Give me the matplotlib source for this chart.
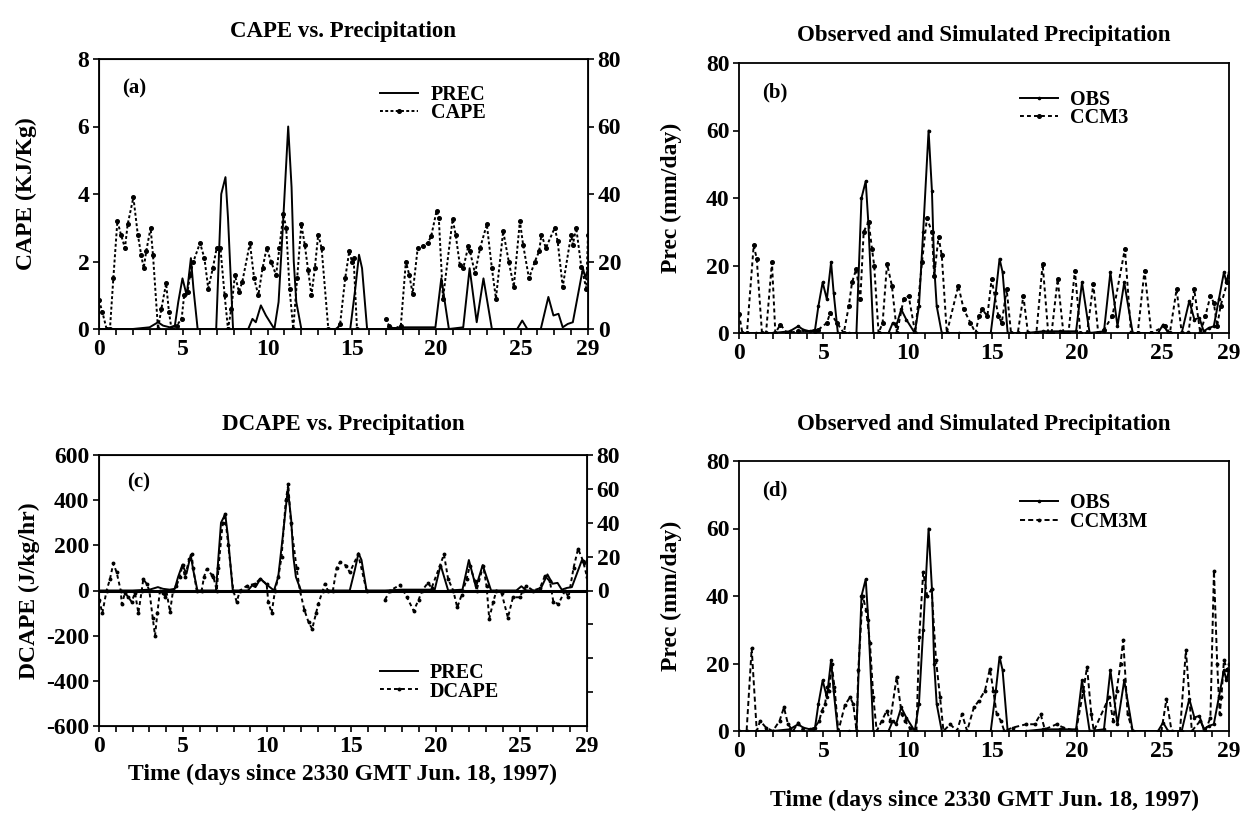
import numpy as np
import matplotlib
matplotlib.use("Agg")
import matplotlib.pyplot as plt

plt.rcParams['font.family'] = ['Liberation Serif', 'DejaVu Serif']
plt.rcParams['font.weight'] = 'bold'
plt.rcParams['axes.labelweight'] = 'bold'
plt.rcParams['axes.titleweight'] = 'bold'
plt.rcParams['axes.unicode_minus'] = False

nan = np.nan
# ---------------- data ----------------
obs_t = [0, 0.5, 1, 2, 3, 3.5, 3.8, 4.2, 4.5, 4.7, 4.95, 5.2, 5.45, 5.6, 5.85, 6.5, 6.95, 7.25, 7.5, 7.65, 7.95,
         8.85, 9.1, 9.3, 9.6, 9.9, 10.4, 10.65, 10.9, 11.22, 11.42, 11.55, 11.7, 12.0, 13, 14.9, 15.2, 15.42, 15.6,
         15.9, 17, 18, 19, 19.95, 20.3, 20.75, 21.6, 21.98, 22.4, 22.8, 23.3, 24.8, 25.1, 25.4, 26.2, 26.65, 26.95,
         27.25, 27.5, 27.8, 28.1, 28.4, 28.7, 28.85, 29]
obs_v = [0, 0, 0, 0, 0.5, 2, 1, 0.5, 1, 8, 15, 10, 21, 12, 0, 0, 0, 40, 45, 33, 0,
         0, 3, 2, 7, 4, 0, 8, 30, 60, 42, 20, 8, 0, 0, 0, 12, 22, 18,
         0, 0, 0.5, 0.5, 0.5, 15, 0, 0.5, 18, 2, 15, 0, 0, 2.5, 0, 0, 9.5, 4,
         4.5, 0.5, 1.5, 2, 10, 18, 15, 18]

cape_t = [0, 0.2, 0.45, 0.65, 0.85, 1.09, 1.3, 1.54, 1.7, 2.04, 2.3, 2.5, 2.65, 2.8, 3.06, 3.2, 3.5, 3.7, 3.98,
          4.15, 4.3, 4.6, 4.9, 5.05, 5.25, 5.4, 5.6, 5.99, 6.25, 6.48, 6.75, 6.98, 7.2, 7.45, 7.65, 7.85, 8.06,
          8.3, 8.5, 8.95, 9.2, 9.45, 9.7, 9.94, 10.2, 10.5, 10.7, 10.93, 11.1, 11.3, 11.52, 11.75, 12.0, 12.2,
          12.4, 12.6, 12.8, 13.0, 13.2, 13.6, 14.1, 14.3, 14.6, 14.84, 15.0, 15.1, 15.3, 16.0, 17.0, 17.2, 17.5,
          17.9, 18.2, 18.4, 18.6, 18.9, 19.2, 19.5, 19.7, 20.02, 20.15, 20.4, 20.97, 21.15, 21.4, 21.6, 21.9,
          22.0, 22.3, 22.6, 23.0, 23.3, 23.54, 23.97, 24.3, 24.6, 24.96, 25.15, 25.5, 25.85, 26.1, 26.24, 26.5,
          27.03, 27.2, 27.5, 28.0, 28.1, 28.3, 28.6, 28.9, 29]
cape_v = [0.85, 0.5, 0, 0, 1.5, 3.2, 2.8, 2.4, 3.1, 3.9, 2.8, 2.2, 1.8, 2.3, 3.0, 2.2, 0, 0.6, 1.35,
          0.5, 0, 0.1, 0.3, 1.0, 1.1, 1.6, 2.0, 2.55, 2.1, 1.2, 1.8, 2.4, 2.4, 1.0, 0, 0.6, 1.6,
          1.1, 1.4, 2.55, 1.5, 1.0, 1.8, 2.4, 2.0, 1.6, 2.4, 3.4, 3.0, 1.2, 0, 1.5, 3.1, 2.5,
          1.75, 1.0, 1.8, 2.8, 2.4, 0, 0, 0.15, 1.5, 2.3, 2.0, 2.1, 0, nan, 0.3, 0.1, 0,
          0.1, 2.0, 1.6, 1.05, 2.4, 2.45, 2.55, 2.75, 3.5, 3.3, 0.9, 3.25, 2.8, 1.9, 1.8, 2.45,
          2.3, 1.65, 2.4, 3.1, 1.8, 0.9, 2.9, 2.0, 1.25, 3.2, 2.5, 1.5, 2.0, 2.3, 2.8, 2.4,
          3.0, 2.6, 1.25, 2.8, 2.5, 3.0, 1.85, 1.2, 2.8]

ccm3_t = [0, 0.2, 0.47, 0.87, 1.05, 1.36, 1.6, 1.95, 2.15, 2.45, 2.85, 3.5, 4.5, 4.7, 5.2, 5.4, 5.8, 6.2, 6.5,
          6.69, 6.94, 7.18, 7.38, 7.67, 7.87, 8.0, 8.26, 8.5, 8.76, 9.05, 9.35, 9.74, 10.04, 10.43, 10.83, 11.12,
          11.42, 11.55, 11.81, 12.0, 12.3, 12.98, 13.3, 13.7, 14.0, 14.2, 14.4, 14.7, 14.95, 15.35, 15.55, 15.84,
          16.1, 16.5, 16.83, 17.1, 17.6, 17.97, 18.3, 18.5, 18.86, 19.2, 19.5, 19.88, 20.2, 20.6, 20.97, 21.26,
          21.6, 22.1, 22.84, 23.2, 23.6, 24.0, 24.4, 25.2, 25.5, 25.9, 26.2, 26.6, 26.94, 27.3, 27.6, 27.9, 28.1,
          28.3, 28.5, 28.9, 29]
ccm3_v = [5.7, 0, 0, 26, 22, 0, 0, 21, 0, 2.5, 0, 0.5, 0.5, 1, 3, 6, 3, 0, 8,
          15, 19, 10, 30, 33, 25, 20, 0, 3, 20.5, 14, 0, 10, 11, 0, 21, 34,
          30, 17, 28.5, 23, 0, 14, 7, 3, 0, 5, 7, 5, 16, 5, 3, 13,
          0, 0, 11, 0, 0, 20.5, 0, 0, 16, 0, 0, 18.5, 0, 0, 14.5, 0,
          1, 5, 25, 0, 0, 18.5, 0, 2, 0, 13, 0, 0, 13, 0, 5, 11, 9,
          2, 8, 15, 17]

ccm3m_t = [0, 0.45, 0.75, 1.05, 1.25, 1.6, 2.0, 2.4, 2.66, 2.9, 3.2, 3.5, 3.8, 4.4, 4.75, 4.9, 5.1, 5.2, 5.35,
           5.48, 5.65, 5.88, 6.27, 6.57, 6.76, 6.96, 7.06, 7.32, 7.52, 7.75, 7.95, 8.15, 8.45, 8.74, 8.95, 9.33,
           9.63, 9.82, 10.1, 10.5, 10.67, 10.9, 11.14, 11.4, 11.66, 11.9, 12.1, 12.5, 12.9, 13.2, 13.5, 13.9,
           14.2, 14.56, 14.85, 15.05, 15.25, 15.5, 15.7, 16.2, 17.0, 17.5, 17.85, 18.1, 18.8, 19.2, 19.95, 20.38,
           20.6, 20.85, 21.0, 21.9, 22.15, 22.35, 22.58, 22.74, 23.0, 23.3, 25.0, 25.3, 25.6, 26.1, 26.45, 26.8,
           27.3, 27.6, 27.9, 28.11, 28.3, 28.45, 28.55, 28.7, 28.9, 29]
ccm3m_v = [0, 0, 24.5, 0, 3, 1, 0, 3, 7, 2, 0, 2.5, 0, 0.5, 3, 6, 8, 13, 12,
           20, 13, 0, 7.7, 10, 8, 0, 18, 40, 36, 26, 10, 0, 3, 6, 3, 16,
           5, 3, 1, 0, 28, 47, 40, 42, 21, 10, 0, 2, 0, 5, 0, 7,
           9, 12, 18.5, 12, 5, 3, 0, 1, 2, 2, 5, 0.5, 2, 1, 0, 12,
           19, 5, 0, 10, 3, 12, 20, 27, 5, 0, 0, 9.5, 0, 0, 24, 0,
           3, 0, 4, 47.5, 20, 5, 10, 21, 18, 20]

dcape_t = [0, 0.2, 0.45, 0.65, 0.85, 1.05, 1.29, 1.35, 1.55, 1.74, 1.94, 2.14, 2.34, 2.54, 2.63, 2.83, 2.99, 3.19,
           3.33, 3.47, 3.62, 3.82, 3.92, 4.0, 4.22, 4.4, 4.6, 4.8, 4.97, 5.1, 5.37, 5.5, 5.6, 5.8, 6.1, 6.24, 6.4,
           6.7, 6.8, 7.0, 7.1, 7.35, 7.48, 7.68, 7.98, 8.18, 8.38, 8.77, 9.27, 9.56, 9.96, 10.06, 10.26, 10.46,
           10.66, 10.85, 11.1, 11.25, 11.4, 11.74, 11.94, 12.2, 12.45, 12.67, 12.9, 13.03, 13.3, 13.42, 13.6,
           13.9, 14.12, 14.32, 14.7, 14.9, 15.4, 15.9, 16.5, 17.0, 17.3, 17.9, 18.3, 18.7, 19.0, 19.2, 19.56,
           19.76, 20.26, 20.5, 20.75, 21.05, 21.29, 21.55, 21.84, 22.04, 22.34, 22.44, 22.83, 23.03, 23.19,
           23.43, 23.62, 23.92, 24.3, 24.6, 25.0, 25.2, 25.4, 25.8, 26.2, 26.5, 26.8, 27.0, 27.3, 27.7, 27.9,
           28.2, 28.47, 28.77, 29]
dcape_v = [-40, -100, 0, 50, 120, 80, 0, -60, -10, -30, -50, -10, -100, 0, 50, 30, 0, -120,
           -200, -100, 0, -10, -30, 0, -95, 0, 20, 60, 115, 60, 140, 160, 100, 0, 0, 60, 95,
           70, 60, 0, 100, 300, 340, 200, 0, -50, 0, 20, 30, 50, 30, -50, -100, 0,
           60, 150, 400, 470, 300, 100, 0, -85, -140, -170, -100, -60, 0, 30, 0,
           0, 100, 125, 110, 80, 160, 0, nan, -40, 0, 25, -30, -90, -40, 0, 35,
           10, 110, 160, 50, 0, -75, -20, 50, 110, 40, 0, 110, 20, -125,
           -50, 0, -10, -120, -30, -30, 0, 20, 0, 10, 65, 40, -50, -60, 0, -30,
           100, 185, 130, 60]

xtick_labels = ['0', '5', '10', '15', '20', '25', '29']
xtick_pos = [0, 5, 10, 15, 20, 25, 29]

# ---------------- figure ----------------
W, H = 1247, 816
fig = plt.figure(figsize=(W / 100, H / 100), dpi=100)


def rect(x0, y0, x1, y1):
    return [x0 / W, 1 - y1 / H, (x1 - x0) / W, (y1 - y0) / H]


TICK = 17
LAB = 17
TIT = 16.5
LEG = 14.5
LW = 1.4
MS = 2.6


def style_x(ax):
    ax.set_xlim(0, 29)
    ax.set_xticks(np.arange(0, 30, 1))
    ax.set_xticklabels([xtick_labels[xtick_pos.index(i)] if i in xtick_pos else '' for i in range(30)])
    for s in ax.spines.values():
        s.set_linewidth(1.3)
    ax.tick_params(axis='both', direction='out', length=4, width=1.2, labelsize=TICK, pad=3)


def legend(ax, handles, labels, anchor):
    leg = ax.legend(handles, labels, loc='upper left', bbox_to_anchor=anchor, frameon=False,
                    fontsize=LEG, handlelength=1.9, handletextpad=0.6, labelspacing=-0.08,
                    borderaxespad=0, borderpad=0)
    return leg


solid = dict(color='black', lw=LW, ls='-', marker='o', ms=1.6)
dot_cape = dict(color='black', lw=LW, ls=(0, (1.5, 1.2)), marker='o', ms=MS)

# (a)
axa = fig.add_axes(rect(99, 59, 588, 329))
axa2 = axa.twinx()
l1, = axa2.plot(obs_t, obs_v, color='black', lw=LW, ls='-')
l2, = axa.plot(cape_t, cape_v, **dot_cape)
axa.set_ylim(0, 8)
axa.set_yticks([0, 2, 4, 6, 8])
axa2.set_ylim(0, 80)
axa2.set_yticks([0, 20, 40, 60, 80])
style_x(axa)
axa2.tick_params(axis='y', direction='out', length=4, width=1.2, labelsize=TICK, pad=3)
axa.set_ylabel('CAPE (KJ/Kg)', fontsize=LAB, labelpad=29)
axa.set_title('CAPE vs. Precipitation', fontsize=TIT, pad=16)
axa.text(0.047, 0.89, '(a)', transform=axa.transAxes, fontsize=15, va='center', ha='left')
legend(axa2, [l1, l2], ['PREC', 'CAPE'], (0.575, 0.905))

# (b)
axb = fig.add_axes(rect(739, 63, 1229, 333))
m1, = axb.plot(obs_t, obs_v, **solid)
m2, = axb.plot(ccm3_t, ccm3_v, color='black', lw=LW, ls=(0, (2, 1.6)), marker='o', ms=MS)
axb.set_ylim(0, 80)
axb.set_yticks([0, 20, 40, 60, 80])
style_x(axb)
axb.set_ylabel('Prec (mm/day)', fontsize=LAB, labelpad=17)
axb.set_title('Observed and Simulated Precipitation', fontsize=TIT, pad=16)
axb.text(0.047, 0.89, '(b)', transform=axb.transAxes, fontsize=15, va='center', ha='left')
legend(axb, [m1, m2], ['OBS', 'CCM3'], (0.573, 0.9))

# (c)
axc = fig.add_axes(rect(99, 455, 587, 726))
axc2 = axc.twinx()
axc.axhline(0, color='black', lw=2.2)
n1, = axc2.plot(obs_t, obs_v, color='black', lw=LW, ls='-')
n2, = axc.plot(dcape_t, dcape_v, color='black', lw=LW, ls=(0, (2, 1.6)), marker='o', ms=1.8)
axc.set_ylim(-600, 600)
axc.set_yticks([-600, -400, -200, 0, 200, 400, 600])
axc2.set_ylim(-80, 80)
axc2.set_yticks([-60, -40, -20, 0, 20, 40, 60, 80])
axc2.set_yticklabels(['', '', '', '0', '20', '40', '60', '80'])
style_x(axc)
axc2.tick_params(axis='y', direction='out', length=4, width=1.2, labelsize=TICK, pad=3)
axc.set_ylabel('DCAPE (J/kg/hr)', fontsize=LAB, labelpad=4)
axc.set_xlabel('Time (days since 2330 GMT Jun. 18, 1997)', fontsize=LAB, labelpad=5)
axc.set_title('DCAPE vs. Precipitation', fontsize=TIT, pad=18)
axc.text(0.057, 0.9, '(c)', transform=axc.transAxes, fontsize=15, va='center', ha='left')
legend(axc2, [n1, n2], ['PREC', 'DCAPE'], (0.575, 0.232))

# (d)
axd = fig.add_axes(rect(739, 461, 1229, 731))
p1, = axd.plot(obs_t, obs_v, **solid)
p2, = axd.plot(ccm3m_t, ccm3m_v, color='black', lw=LW, ls=(0, (2.6, 1.6)), marker='o', ms=1.8)
axd.set_ylim(0, 80)
axd.set_yticks([0, 20, 40, 60, 80])
style_x(axd)
axd.set_ylabel('Prec (mm/day)', fontsize=LAB, labelpad=17)
axd.set_xlabel('Time (days since 2330 GMT Jun. 18, 1997)', fontsize=LAB, labelpad=20)
axd.set_title('Observed and Simulated Precipitation', fontsize=TIT, pad=22)
axd.text(0.047, 0.89, '(d)', transform=axd.transAxes, fontsize=15, va='center', ha='left')
legend(axd, [p1, p2], ['OBS', 'CCM3M'], (0.573, 0.88))

fig.savefig('out.png', dpi=100)
